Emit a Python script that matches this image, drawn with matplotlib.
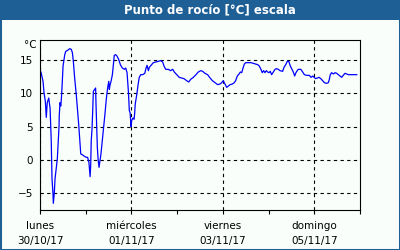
import datetime as dt
import matplotlib
matplotlib.use("Agg")
import matplotlib.pyplot as plt
import matplotlib.dates as mdates
from matplotlib.patches import Rectangle

# Hours since 30/10/17 00:00 and dew point values (°C)
hours = [0.5, 1.6, 2.1, 2.8, 3.3, 3.8, 4.6, 5.3, 5.9, 6.3, 6.8, 7.0, 7.5, 7.9,
         8.6, 9.1, 9.6, 10.0, 10.1, 10.5, 10.9, 11.2, 11.6, 12.1, 13.0, 13.5,
         14.3, 15.6, 16.4, 17.0, 17.5, 18.2, 19.1, 19.6, 20.3, 20.8, 21.4,
         22.2, 23.1, 24.3, 25.0, 25.7, 26.3, 26.6, 26.9, 27.3, 27.7, 28.0,
         28.7, 29.2, 29.4, 29.8, 30.1, 30.5, 31.0, 31.5, 32.0, 32.7, 33.4,
         34.1, 34.8, 35.5, 36.1, 36.4, 36.8, 37.3, 38.0, 38.5, 39.0, 39.7,
         40.4, 41.3, 42.2, 43.2, 44.3, 45.0, 45.7, 46.4, 46.9, 47.3, 47.8,
         48.1, 48.8, 49.4, 49.7, 50.0, 50.8, 51.5, 52.1, 52.9, 53.9, 55.0,
         55.7, 56.2, 56.9, 57.4, 58.3, 59.5, 60.9, 62.1, 63.4, 64.4, 65.1,
         66.0, 67.4, 68.6, 69.7, 70.5, 71.8, 73.1, 74.4, 75.6, 77.0, 78.1,
         79.1, 80.5, 81.9, 83.1, 84.4, 85.4, 86.6, 88.0, 89.3, 90.5, 91.9,
         93.3, 94.5, 95.4, 96.2, 97.1, 98.0, 98.9, 99.8, 101.0, 102.0, 102.7,
         103.6, 104.5, 105.2, 105.9, 106.6, 107.3, 108.0, 109.4, 110.8,
         112.0, 113.2, 114.3, 115.1, 116.0, 116.7, 117.4, 118.1, 118.8,
         119.5, 120.2, 120.9, 121.6, 122.5, 123.4, 124.2, 125.1, 126.0,
         127.4, 128.1, 129.2, 129.8, 130.6, 131.3, 132.1, 133.0, 133.7,
         134.2, 134.8, 135.6, 136.9, 137.9, 138.8, 140.0, 141.4, 142.3,
         143.2, 143.9, 144.7, 145.6, 146.5, 147.4, 148.4, 149.3, 150.3,
         151.4, 151.9, 152.4, 153.1, 154.0, 154.9, 155.8, 156.6, 157.5,
         158.4, 159.2, 160.1, 161.0, 161.9, 162.8, 164.5, 166.3]
dew = [13.2, 11.8, 10.1, 8.8, 6.4, 8.6, 9.3, 7.7, 2.9, -2.8, -5.0, -6.5, -5.0,
       -2.8, -1.1, 0.2, 2.9, 5.1, 6.6, 8.6, 8.1, 9.1, 11.1, 14.1, 15.8, 16.3,
       16.4, 16.7, 16.6, 16.1, 14.8, 12.3, 9.6, 7.9, 5.4, 3.4, 0.9, 0.8, 0.6,
       0.4, 0.4, -0.4, -2.5, -0.9, 2.9, 4.6, 7.6, 10.3, 10.6, 10.8, 8.4, 4.9,
       1.9, 0.1, -1.1, -0.1, 0.9, 2.9, 4.9, 6.9, 9.1, 10.8, 11.8, 10.6, 11.3,
       11.8, 12.8, 14.3, 15.7, 15.8, 15.6, 15.1, 14.3, 13.8, 13.6, 13.8, 13.1,
       10.3, 7.4, 7.1, 5.0, 5.9, 6.3, 6.1, 7.0, 8.4, 9.8, 11.3, 12.4, 12.8,
       12.8, 13.0, 13.8, 14.2, 13.4, 13.9, 14.2, 14.6, 14.7, 14.8, 14.9, 14.7,
       14.1, 13.6, 13.6, 13.4, 13.6, 13.2, 12.8, 12.4, 12.3, 12.2, 11.9, 11.7,
       12.1, 12.4, 12.8, 13.2, 13.4, 13.3, 13.0, 12.8, 12.3, 11.9, 11.6, 11.3,
       11.4, 11.6, 11.9, 11.4, 10.9, 11.1, 11.3, 11.4, 11.6, 11.9, 12.6, 12.9,
       13.2, 13.1, 13.8, 14.4, 14.6, 14.6, 14.6, 14.5, 14.4, 14.3, 14.1, 13.6,
       13.1, 13.4, 13.1, 13.4, 13.2, 13.1, 13.3, 12.8, 13.2, 13.6, 13.7, 13.6,
       13.4, 13.3, 13.9, 14.4, 14.8, 14.8, 14.2, 13.7, 13.2, 12.6, 13.0, 13.3,
       13.6, 13.6, 13.2, 12.8, 12.7, 12.7, 12.4, 12.6, 12.4, 12.2, 12.3, 12.4,
       12.2, 11.9, 11.6, 11.5, 11.6, 12.1, 12.8, 13.1, 12.9, 13.1, 13.0, 12.8,
       12.6, 12.4, 12.7, 13.0, 12.9, 12.8, 12.8, 12.8, 12.8]

start = dt.datetime(2017, 10, 30)
end = dt.datetime(2017, 11, 6)
day_names = ['lunes', 'miércoles', 'viernes', 'domingo']
yticks = [-5, 0, 5, 10, 15]
title = 'Punto de rocío [°C] escala'

BLUE = '#1E5F96'
BG = '#FAFEFA'

times = [start + dt.timedelta(hours=h) for h in hours]

fig = plt.figure(figsize=(4, 2.5), dpi=100)
fig.patch.set_facecolor(BG)
ax = fig.add_axes([0.1, 0.16, 0.8, 0.68])
ax.set_facecolor(BG)

ax.plot(times, dew, color='#0000FF', lw=0.9)

ax.set_xlim(start, end)
ax.set_ylim(-7.5, 18)
ax.set_yticks(yticks)
ax.tick_params(axis='y', length=0, labelsize=7.5, pad=5)

ax.xaxis.set_minor_locator(mdates.DayLocator())
major_dates = [start + dt.timedelta(days=2 * i) for i in range(4)]
ax.set_xticks(major_dates)
ax.set_xticklabels([f"{n}\n{d:%d/%m/%y}" for n, d in zip(day_names, major_dates)],
                   linespacing=1.55)
ax.tick_params(axis='x', which='both', length=3, width=0.8, labelsize=7.5, pad=5)

ax.grid(True, which='major', color='black', linestyle=(0, (3, 3)), lw=0.8)
for s in ax.spines.values():
    s.set_linewidth(0.8)

ax.text(-0.012, 0.97, '°C', transform=ax.transAxes, ha='right', va='center',
        fontsize=7.5)

# title bar and frame
fig.patches.append(Rectangle((0, 1 - 20 / 250), 1, 20 / 250, transform=fig.transFigure,
                             facecolor=BLUE, edgecolor='none', zorder=0))
fig.patches.append(Rectangle((0, 0), 1, 1, transform=fig.transFigure,
                             fill=False, edgecolor=BLUE, lw=2.2, zorder=5))
fig.text(0.525, 1 - 10 / 250, title, color='white', fontsize=8.5, fontweight='bold',
         ha='center', va='center')

fig.savefig('out.png', dpi=100, facecolor=BG)
